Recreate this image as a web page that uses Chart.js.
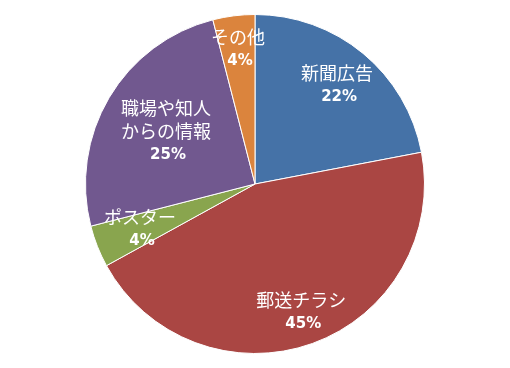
<!DOCTYPE html>
<html>
<head>
<meta charset="utf-8">
<script src="https://cdn.jsdelivr.net/npm/chart.js@4"></script>
<style>
  html, body { margin: 0; padding: 0; background: #fff; }
  #wrap { width: 510px; height: 368px; }
</style>
</head>
<body>
<div id="wrap"><canvas id="chart"></canvas></div>
<script>
// data
var categories = ["新聞広告", "郵送チラシ", "ポスター", "職場や知人からの情報", "その他"]
var values = [22, 45, 4, 25, 4]
// how the names wrap inside the slices
var labelLines = [["新聞広告"], ["郵送チラシ"], ["ポスター"], ["職場や知人", "からの情報"], ["その他"]]
var sliceColors = ["#4572A7", "#AA4643", "#89A54E", "#71588F", "#DB843D"]
// how far out (fraction of radius) each label sits
var labelRadius = [0.76, 0.805, 0.73, 0.61, 0.8]

var total = values.reduce(function(a, b){ return a + b }, 0)

// draws name + percent in white inside each slice
var sliceLabels = {
    id: "sliceLabels",
    afterDatasetsDraw: function(chart) {
        var ctx = chart.ctx
        var meta = chart.getDatasetMeta(0)
        ctx.save()
        ctx.fillStyle = "#fff"
        ctx.textAlign = "center"
        ctx.textBaseline = "middle"
        meta.data.forEach(function(arc, i) {
            var p = arc.getProps(["x", "y", "startAngle", "endAngle", "outerRadius"], true)
            var mid = (p.startAngle + p.endAngle) / 2
            var r = p.outerRadius * labelRadius[i]
            var cx = p.x + Math.cos(mid) * r
            var cy = p.y + Math.sin(mid) * r
            var lines = labelLines[i]
            var step = 23, gap = 24
            var h = (lines.length - 1) * step + gap
            var top = cy - h / 2
            ctx.font = "18px 'Noto Sans CJK JP', sans-serif"
            lines.forEach(function(t, j) {
                ctx.fillText(t, cx, top + j * step)
            })
            ctx.font = "bold 15px 'DejaVu Sans', sans-serif"
            var pct = Math.round(values[i] / total * 100) + "%"
            ctx.fillText(pct, cx + 2, top + (lines.length - 1) * step + gap)
        })
        ctx.restore()
    }
}

new Chart(document.getElementById("chart"), {
    type: "pie",
    data: {
        labels: categories,
        datasets: [{
            data: values,
            backgroundColor: sliceColors,
            borderColor: "#fff",
            borderWidth: 1
        }]
    },
    options: {
        responsive: true,
        maintainAspectRatio: false,
        animation: false,
        layout: { padding: 14 },
        plugins: {
            legend: { display: false },
            tooltip: { enabled: false }
        }
    },
    plugins: [sliceLabels]
})
</script>
</body>
</html>
